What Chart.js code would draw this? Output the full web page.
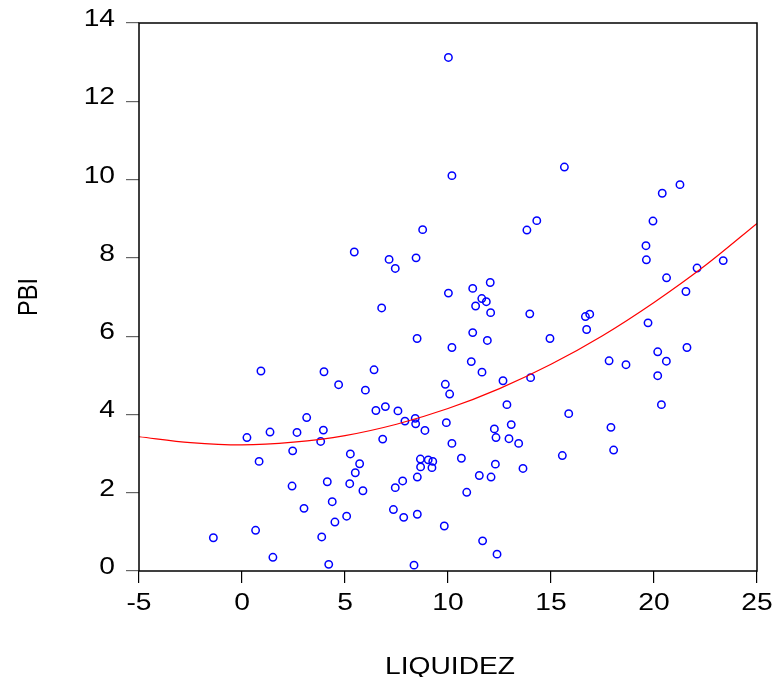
<!DOCTYPE html>
<html>
<head>
<meta charset="utf-8">
<script src="https://cdn.jsdelivr.net/npm/chart.js@4"></script>
<style>
  body { margin: 0; background: #fff; }
  #wrap { width: 774px; height: 677px; }
</style>
</head>
<body>
<div id="wrap"><canvas id="scatterChart" width="774" height="677"></canvas></div>
<script>
const liquidez = [
  10.02, 10.19, 8.77, 5.45, 7.14, 8.45, 7.44, 10.02, 15.65, 21.26,
  20.40, 19.95, 14.31, 13.83, 19.61, 19.63, 23.36, 22.09, 20.61, 21.55,
  12.05, 11.20, 11.64, 11.86, 11.34, 12.07, 13.97, 16.67, 16.88, 16.73,
  19.71, 11.20, 11.91, 14.95, 10.19, 21.60, 20.18, 11.13, 17.82, 18.64,
  20.60, 11.65, 20.18, 12.67, 14.01, 9.87, 10.08, 12.86, 20.36, 15.86,
  9.92, 12.25, 13.07, 17.91, 12.33, 12.96, 13.43, 10.19, 10.65, 15.55,
  18.04, 12.30, 13.64, 11.52, 12.09, 10.91, 9.82, 11.68, 12.38, 6.78,
  8.50, 0.92, 3.98, 6.41, 4.69, 5.99, 6.50, 6.96, 7.57, 3.14,
  8.41, 7.91, 8.43, 8.88, 1.36, 2.67, 3.95, 0.24, 3.82, 6.83,
  2.46, 0.83, 5.26, 5.71, 5.50, 8.66, 9.04, 9.26, 8.67, 9.22,
  8.51, 7.80, 7.44, 4.14, 5.23, 5.87, 2.43, 4.38, 3.01, 7.35,
  7.85, 8.51, 5.08, 4.51, 0.66, -1.39, 3.87, 1.50, 4.21, 8.35
];
const pbi = [
  13.12, 10.10, 8.72, 8.15, 7.96, 8.00, 7.73, 7.10, 10.32, 9.87,
  9.65, 8.94, 8.95, 8.71, 8.31, 7.95, 7.93, 7.74, 7.49, 7.14,
  7.37, 7.22, 6.96, 6.88, 6.77, 6.60, 6.57, 6.50, 6.56, 6.17,
  6.34, 6.09, 5.89, 5.94, 5.71, 5.71, 5.60, 5.35, 5.37, 5.27,
  5.36, 5.08, 4.99, 4.86, 4.94, 4.77, 4.52, 4.25, 4.25, 4.02,
  3.79, 3.63, 3.74, 3.67, 3.41, 3.38, 3.26, 3.26, 2.88, 2.95,
  3.09, 2.73, 2.62, 2.44, 2.40, 2.01, 1.15, 0.77, 0.43, 6.72,
  5.94, 5.11, 5.09, 5.14, 4.76, 4.62, 4.10, 4.20, 4.09, 3.92,
  3.90, 3.83, 3.76, 3.59, 3.55, 3.54, 3.60, 3.41, 3.31, 3.37,
  3.07, 2.80, 2.99, 2.74, 2.51, 2.86, 2.84, 2.80, 2.66, 2.64,
  2.40, 2.30, 2.13, 2.28, 2.23, 2.05, 2.17, 1.77, 1.60, 1.57,
  1.37, 1.45, 1.40, 1.25, 1.04, 0.85, 0.87, 0.35, 0.17, 0.15
];

// red fitted curve, read at fixed steps along x
const curveX = [-5, -2.5, 0, 2.5, 5, 7.5, 10, 12.5, 15, 17.5, 20, 22.5, 25];
const curveY = [3.43, 3.28, 3.22, 3.29, 3.46, 3.75, 4.15, 4.66, 5.28, 6.01, 6.86, 7.81, 8.88];

// axes
const xTicks = [-5, 0, 5, 10, 15, 20, 25];
const yTicks = [0, 2, 4, 6, 8, 10, 12, 14];
const xTitle = 'LIQUIDEZ';
const yTitle = 'PBI';

const textFont = '23.5px Arial, "Liberation Sans", sans-serif';
const stretchX = 1.2; // the original export is widened horizontally

function stretchedText(ctx, text, x, y, align, rotate) {
  ctx.save();
  ctx.translate(x, y);
  ctx.scale(stretchX, 1);
  if (rotate) ctx.rotate(-Math.PI / 2);
  ctx.textAlign = align;
  ctx.textBaseline = 'alphabetic';
  ctx.fillText(text, 0, 0);
  ctx.restore();
}

// tick labels and axis titles, placed from the chart's own scales
const axisText = {
  id: 'axisText',
  afterDraw(chart) {
    const { ctx, chartArea: a, scales } = chart;
    ctx.save();
    ctx.font = textFont;
    ctx.fillStyle = '#000';
    yTicks.forEach(v => {
      stretchedText(ctx, String(v), a.left - 24, scales.y.getPixelForValue(v) + 3, 'right');
    });
    xTicks.forEach(v => {
      stretchedText(ctx, String(v), scales.x.getPixelForValue(v), a.bottom + 39, 'center');
    });
    stretchedText(ctx, xTitle, (a.left + a.right) / 2 + 2, 674, 'center');
    stretchedText(ctx, yTitle, 36.5, (a.top + a.bottom) / 2, 'center', true);
    ctx.restore();
  }
};

// draws the closed box around the plot
const frameBox = {
  id: 'frameBox',
  afterDatasetsDraw(chart) {
    const { ctx, chartArea: a } = chart;
    ctx.save();
    ctx.strokeStyle = '#000';
    ctx.lineWidth = 1.5;
    ctx.strokeRect(a.left, a.top, a.right - a.left, a.bottom - a.top);
    ctx.restore();
  }
};

new Chart(document.getElementById('scatterChart'), {
  type: 'scatter',
  data: {
    datasets: [
      {
        label: 'PBI',
        data: liquidez.map((x, i) => ({ x: x, y: pbi[i] })),
        pointStyle: 'circle',
        pointRadius: 3.7,
        pointBorderWidth: 1.5,
        pointBorderColor: '#0000ff',
        pointBackgroundColor: 'rgba(0,0,0,0)',
        showLine: false,
        order: 1
      },
      {
        label: 'fit',
        data: curveX.map((x, i) => ({ x: x, y: curveY[i] })),
        showLine: true,
        borderColor: '#ff0000',
        borderWidth: 1.2,
        pointRadius: 0,
        tension: 0.4,
        cubicInterpolationMode: 'monotone',
        order: 0
      }
    ]
  },
  options: {
    responsive: false,
    animation: false,
    layout: { padding: { top: 23, right: 17, left: 0, bottom: 0 } },
    plugins: { legend: { display: false }, tooltip: { enabled: false } },
    scales: {
      x: {
        type: 'linear',
        min: -5,
        max: 25,
        afterBuildTicks: s => { s.ticks = xTicks.map(v => ({ value: v })); },
        afterFit: s => { s.height = 106; },
        ticks: { display: false },
        grid: { drawOnChartArea: false, drawTicks: true, tickLength: 12, color: '#000', lineWidth: 1.2 },
        border: { display: false }
      },
      y: {
        type: 'linear',
        min: 0,
        max: 14,
        afterBuildTicks: s => { s.ticks = yTicks.map(v => ({ value: v })); },
        afterFit: s => { s.width = 139; },
        ticks: { display: false },
        grid: { drawOnChartArea: false, drawTicks: true, tickLength: 13, color: '#666', lineWidth: 1.2 },
        border: { display: false }
      }
    }
  },
  plugins: [frameBox, axisText]
});
</script>
</body>
</html>
